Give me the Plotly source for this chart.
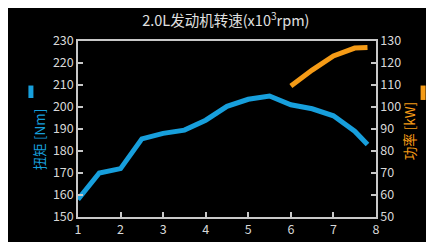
import plotly.graph_objects as go

rpm_torque = [1, 1.5, 2, 2.5, 3, 3.5, 4, 4.5, 5, 5.5, 6, 6.5, 7, 7.5, 7.8]
torque = [158, 170, 172, 185.5, 188, 189.5, 194, 200.3, 203.5, 205, 201, 199.2, 196, 189, 183]
rpm_power = [6, 6.5, 7, 7.5, 7.8]
power = [109.5, 116.8, 123.2, 126.8, 127]

x_ticks = [1, 2, 3, 4, 5, 6, 7, 8]
y1_ticks = [150, 160, 170, 180, 190, 200, 210, 220, 230]
y2_ticks = [50, 60, 70, 80, 90, 100, 110, 120, 130]

BLUE = "#179fdc"
ORANGE = "#f59b16"
AX = "#c8c8c8"
FONT = "Noto Sans CJK SC"

fig = go.Figure()
fig.add_trace(go.Scatter(x=rpm_torque, y=torque, mode="lines",
                         line=dict(color=BLUE, width=5), yaxis="y", showlegend=False))
fig.add_trace(go.Scatter(x=rpm_power, y=power, mode="lines",
                         line=dict(color=ORANGE, width=5), yaxis="y2", showlegend=False))

axis_common = dict(showgrid=False, zeroline=False, showline=True, linecolor=AX, linewidth=1.5,
                   ticks="inside", ticklen=5, tickcolor=AX, tickwidth=1.5,
                   tickfont=dict(family=FONT, size=12.5, color="#d8d8d8"))

fig.update_layout(
    width=434, height=242,
    paper_bgcolor="black", plot_bgcolor="black",
    margin=dict(l=70, r=66, t=33, b=27),
    title=dict(text="2.0L发动机转速(x10<sup>3</sup>rpm)", x=0.502, xanchor="center", xref="container",
               y=0.948, yanchor="middle", yref="container",
               font=dict(family=FONT, size=14.5, color="#e0e0e0")),
    xaxis=dict(range=[1, 8], tickvals=x_ticks, mirror=True, **axis_common),
    yaxis=dict(range=[150, 230], tickvals=y1_ticks, **axis_common),
    yaxis2=dict(range=[50, 130], tickvals=y2_ticks, overlaying="y", side="right", **axis_common),
    annotations=[
        dict(text="扭矩 [Nm]", textangle=-90, x=-0.171, y=0.437, xref="paper", yref="paper",
             showarrow=False, font=dict(family=FONT, size=13.5, color=BLUE)),
        dict(text="功率 [kW]", textangle=-90, x=1.154, y=0.486, xref="paper", yref="paper",
             showarrow=False, font=dict(family=FONT, size=13.5, color=ORANGE)),
    ],
    shapes=[
        dict(type="line", xref="paper", yref="paper", x0=-0.158, x1=-0.158, y0=0.676, y1=0.747,
             line=dict(color=BLUE, width=5)),
        dict(type="line", xref="paper", yref="paper", x0=1.158, x1=1.158, y0=0.665, y1=0.747,
             line=dict(color=ORANGE, width=5)),
    ],
)

fig.write_html("out.html")
